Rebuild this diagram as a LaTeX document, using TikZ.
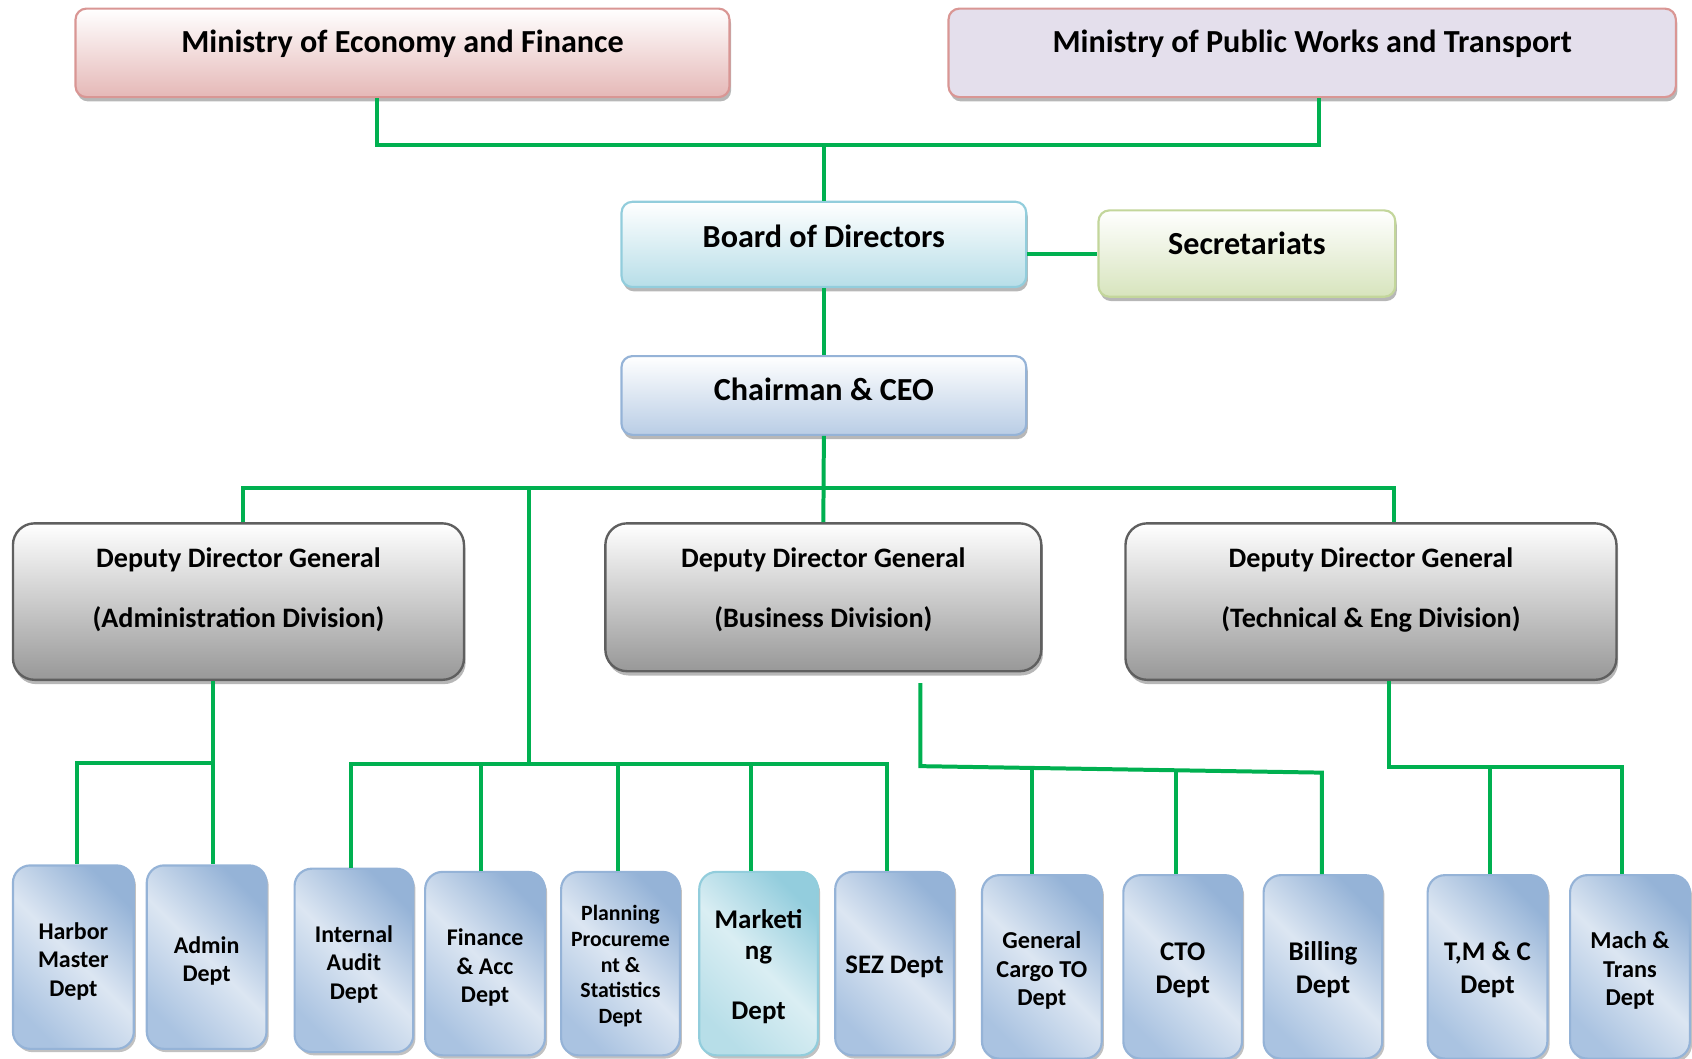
\documentclass[tikz,border=0pt]{standalone}
\usepackage{fontspec}
\setmainfont{Carlito}
\usetikzlibrary{shadows}
\newcommand\topstrut{\rule{0pt}{23pt}}
\definecolor{lgreen}{RGB}{0,176,80}
\definecolor{econtop}{RGB}{255,255,255}
\definecolor{econbot}{RGB}{229,184,183}
\definecolor{econline}{RGB}{217,150,148}
\definecolor{pwfill}{RGB}{228,223,236}
\definecolor{boardbot}{RGB}{183,222,232}
\definecolor{boardline}{RGB}{146,205,220}
\definecolor{secbot}{RGB}{215,228,189}
\definecolor{secline}{RGB}{195,214,155}
\definecolor{chairbot}{RGB}{185,205,229}
\definecolor{chairline}{RGB}{149,179,215}
\definecolor{ddgbot}{RGB}{152,152,152}
\definecolor{ddgline}{RGB}{95,95,95}
\definecolor{deptdark}{RGB}{149,179,215}
\definecolor{deptlight}{RGB}{220,230,242}
\definecolor{deptmid}{RGB}{170,195,225}
\definecolor{deptline}{RGB}{149,179,215}
\definecolor{mktdark}{RGB}{147,205,221}
\definecolor{mktlight}{RGB}{218,238,243}
\definecolor{mktmid}{RGB}{183,222,232}
\definecolor{mktline}{RGB}{146,205,220}
\begin{document}
\begin{tikzpicture}[x=1pt,y=-1pt,
  conn/.style={draw=lgreen, line width=3.7pt},
  shad/.style={drop shadow={shadow xshift=1.5pt, shadow yshift=-4pt, opacity=0.4, fill=black!70}},
  topbox/.style={line width=2pt, rounded corners=10pt, inner sep=0pt, shad},
  ddg/.style={draw=ddgline, line width=2.2pt, rounded corners=20pt, inner sep=0pt, shad,
    top color=white, bottom color=ddgbot},
  dept/.style={draw=deptline, line width=2pt, rounded corners=16pt, inner sep=0pt,
    minimum width=111pt, minimum height=170pt, align=center,
    font=\bfseries\fontsize{22.2}{26.5}\selectfont,
    drop shadow={shadow xshift=2pt, shadow yshift=-3pt, opacity=0.35, fill=black!70},
    top color=deptdark, bottom color=deptmid, middle color=deptlight, shading angle=-45},
  bigtxt/.style={font=\bfseries\fontsize{29.8}{35}\selectfont, anchor=base, inner sep=0pt},
  ddgtxt/.style={font=\bfseries\fontsize{26.1}{31}\selectfont, anchor=base, inner sep=0pt}
]
\useasboundingbox (0,0) rectangle (1568,981);
\clip (0,0) rectangle (1568,981);

% top boxes
\node[topbox, draw=econline, top color=econtop, bottom color=econbot,
  minimum width=606pt, minimum height=82pt] (econ) at (373,49) {};
\node[topbox, draw=econline, fill=pwfill,
  minimum width=674pt, minimum height=82pt] (pw) at (1216,49) {};
\node[topbox, draw=boardline, top color=white, bottom color=boardbot,
  minimum width=375pt, minimum height=79pt] (board) at (763.5,226.5) {};
\node[topbox, draw=secline, top color=white, bottom color=secbot,
  minimum width=275pt, minimum height=80pt] (sec) at (1155.5,235) {};
\node[topbox, draw=chairline, top color=white, bottom color=chairbot,
  minimum width=375pt, minimum height=73pt] (chair) at (763.5,366.5) {};

\node[bigtxt] (econT) at ([yshift=0pt]econ.center) {Ministry of Economy and Finance};
\node[bigtxt] (pwT) at ([yshift=0pt]pw.center) {Ministry of Public Works and Transport};
\node[bigtxt] (boardT) at ([yshift=-2.5pt]board.center) {Board of Directors};
\node[bigtxt] (secT) at ([yshift=-0.5pt]sec.center) {Secretariats};
\node[bigtxt] (chairT) at ([yshift=-4.5pt]chair.center) {Chairman \& CEO};

% deputy director generals
\node[ddg, minimum width=418pt, minimum height=145pt] (ddgA) at (221,557.5) {};
\node[ddg, minimum width=404pt, minimum height=137pt] (ddgB) at (763,553.5) {};
\node[ddg, minimum width=455pt, minimum height=145pt] (ddgC) at (1270.5,557.5) {};
\node[ddgtxt] (ddgA1) at ([yshift=32pt]ddgA.center) {Deputy Director General};
\node[ddgtxt] (ddgA2) at ([yshift=-24pt]ddgA.center) {(Administration Division)};
\node[ddgtxt] (ddgB1) at ([yshift=28pt]ddgB.center) {Deputy Director General};
\node[ddgtxt] (ddgB2) at ([yshift=-28pt]ddgB.center) {(Business Division)};
\node[ddgtxt] (ddgC1) at ([yshift=32pt]ddgC.center) {Deputy Director General};
\node[ddgtxt] (ddgC2) at ([yshift=-24pt]ddgC.center) {(Technical \& Eng Division)};

% departments
\node[dept, minimum width=112pt] (hm) at (68,887) {\topstrut Harbor\\Master\\Dept};
\node[dept] (adm) at (191.5,887) {\topstrut Admin\\Dept};
\node[dept, minimum width=110pt] (ia) at (328,890) {\topstrut Internal\\Audit\\Dept};
\node[dept] (fin) at (449.5,893) {\topstrut Finance\\\& Acc\\Dept};
\node[dept, minimum width=110pt, font=\bfseries\fontsize{20.2}{23.8}\selectfont] (plan) at (575,893)
  {\rule{0pt}{19pt}Planning\\Procureme\\nt \&\\Statistics\\Dept};
\node[dept, minimum width=110pt, draw=mktline, top color=mktdark, bottom color=mktmid,
  middle color=mktlight, shading angle=-45, font=\bfseries\fontsize{25}{29}\selectfont] (mkt) at (703,893)
  {\topstrut Marketi\\ng\\[26pt]Dept};
\node[dept, minimum width=110pt, font=\bfseries\fontsize{24.8}{28}\selectfont] (sez) at (829,893) {\topstrut SEZ Dept};
\node[dept, font=\bfseries\fontsize{22.5}{26.5}\selectfont] (gc) at (965.5,896) {\topstrut General\\Cargo TO\\Dept};
\node[dept, minimum width=110pt, font=\bfseries\fontsize{25}{30}\selectfont] (cto) at (1096,896) {\topstrut CTO\\Dept};
\node[dept, minimum width=110pt, font=\bfseries\fontsize{25}{30}\selectfont] (bill) at (1226,896) {\topstrut Billing\\Dept};
\node[dept, font=\bfseries\fontsize{25}{30}\selectfont] (tmc) at (1378.5,896) {\topstrut T,M \& C\\Dept};
\node[dept, font=\bfseries\fontsize{22.5}{26.5}\selectfont] (mach) at (1510.5,896) {\topstrut Mach \&\\Trans\\Dept};

% connectors
\coordinate (t1) at (349,134);
\coordinate (t2) at (1222,134);
\coordinate (t0) at (763.5,134);
\draw[conn] (econ.south -| t1) -- (t1) -- (t2) -- (pw.south -| t2);
\draw[conn] (t0) -- (board.north);
\draw[conn] (board.east |- sec.west) -- (sec.west);
\draw[conn] (board.south) -- (chair.north);
\draw[conn] (chair.south) -- (ddgB.north);

\coordinate (m1) at (225,452);
\coordinate (m2) at (1292,452);
\coordinate (m3) at (490,452);
\coordinate (m4) at (490,708);
\draw[conn] (ddgA.north -| m1) -- (m1) -- (m2) -- (ddgC.north -| m2);
\draw[conn] (m3) -- (m4);

\coordinate (c1) at (325,708);
\coordinate (c2) at (822,708);
\coordinate (c3) at (446,708);
\coordinate (c4) at (573,708);
\coordinate (c5) at (696,708);
\draw[conn] (ia.north -| c1) -- (c1) -- (c2) -- (sez.north -| c2);
\draw[conn] (c3) -- (fin.north -| c3);
\draw[conn] (c4) -- (plan.north -| c4);
\draw[conn] (c5) -- (mkt.north -| c5);

\coordinate (a1) at (197,707);
\coordinate (a2) at (71,707);
\draw[conn] (ddgA.south -| a1) -- (a1) -- (a2) -- (hm.north -| a2);
\draw[conn] (a1) -- (adm.north -| a1);

\coordinate (b0) at (853,633);
\coordinate (b1) at (853,710);
\coordinate (b2) at (1225,716);
\coordinate (g1) at (956,712);
\coordinate (g2) at (1090,714);
\draw[conn] (b0) -- (b1) -- (b2) -- (bill.north -| b2);
\draw[conn] (g1) -- (gc.north -| g1);
\draw[conn] (g2) -- (cto.north -| g2);

\coordinate (k0) at (1287,711);
\coordinate (k1) at (1381,711);
\coordinate (k2) at (1503,711);
\draw[conn] (ddgC.south -| k0) -- (k0) -- (k2) -- (mach.north -| k2);
\draw[conn] (k1) -- (tmc.north -| k1);
\end{tikzpicture}
\end{document}
